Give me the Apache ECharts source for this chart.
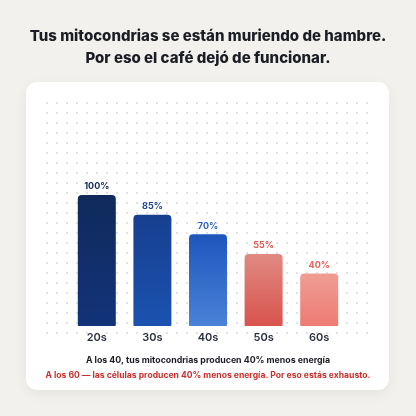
<!DOCTYPE html>
<html>
<head>
<meta charset="utf-8">
<script src="https://cdn.jsdelivr.net/npm/echarts@6/dist/echarts.min.js"></script>
<style>
html,body{margin:0;padding:0;background:#f2f1ed;}
#wrap{position:relative;width:416px;height:416px;overflow:hidden;}
#card{position:absolute;left:26px;top:82px;width:363px;height:308px;background:#fff;border-radius:11px;
  box-shadow:0 4px 14px rgba(0,0,0,0.06);}
#dots{position:absolute;left:42px;top:98px;width:333px;height:242px;
  background-image:radial-gradient(circle,#e1e1e1 0.7px,transparent 1.1px);background-size:10px 10px;}
#main{position:absolute;left:0;top:0;width:416px;height:416px;}
</style>
</head>
<body>
<div id="wrap">
  <div id="card"></div>
  <div id="dots"></div>
  <div id="main"></div>
</div>
<script>
var categories=['20s','30s','40s','50s','60s'];
var values=[100,85,70,55,40];
var barTop=['#0f2a5a','#173f8f','#1e56bd','#e08a82','#ef9d94'];
var barBottom=['#13337a','#1b52b0','#4a82d9','#d9534d','#ee7b72'];
var labelColors=['#13295a','#1d4596','#2b5fc2','#df5b52','#e5635a'];

var font='Inter';
var myChart=echarts.init(document.getElementById('main'),null,{renderer:'canvas'});

var seriesData=[];
for(var i=0;i<values.length;i++){
    seriesData.push({
        value:values[i],
        itemStyle:{
            color:new echarts.graphic.LinearGradient(0,0,0,1,[
                {offset:0,color:barTop[i]},
                {offset:1,color:barBottom[i]}
            ]),
            borderRadius:[4,4,1,1]
        },
        label:{color:labelColors[i]}
    });
}

var option={
    backgroundColor:'transparent',
    animation:false,
    title:{
        text:'Tus mitocondrias se están muriendo de hambre.\nPor eso el café dejó de funcionar.',
        left:'center',
        top:20,
        textStyle:{fontFamily:font,fontSize:15,fontWeight:800,color:'#1a1d24',lineHeight:22,align:'center'}
    },
    grid:{left:69,right:69,top:195,bottom:90,containLabel:false},
    xAxis:{
        type:'category',
        data:categories,
        axisLine:{show:false},
        axisTick:{show:false},
        axisLabel:{margin:6,color:'#2b3140',fontFamily:font,fontSize:11,fontWeight:600}
    },
    yAxis:{
        type:'value',
        min:0,
        max:100,
        show:false
    },
    series:[{
        type:'bar',
        barWidth:38,
        data:seriesData,
        label:{
            show:true,
            position:'top',
            distance:4,
            formatter:'{c}%',
            fontFamily:font,
            fontSize:9,
            fontWeight:700
        }
    }],
    graphic:[
        {type:'text',x:208,y:356,style:{
            text:'A los 40, tus mitocondrias producen 40% menos energía',
            font:'700 8.8px Inter',fill:'#1a1d24',textAlign:'center'}},
        {type:'text',x:208,y:371,style:{
            text:'A los 60 — las células producen 40% menos energía. Por eso estás exhausto.',
            font:'700 8.6px Inter',fill:'#c9302c',textAlign:'center'}}
    ]
};
myChart.setOption(option);
</script>
</body>
</html>
